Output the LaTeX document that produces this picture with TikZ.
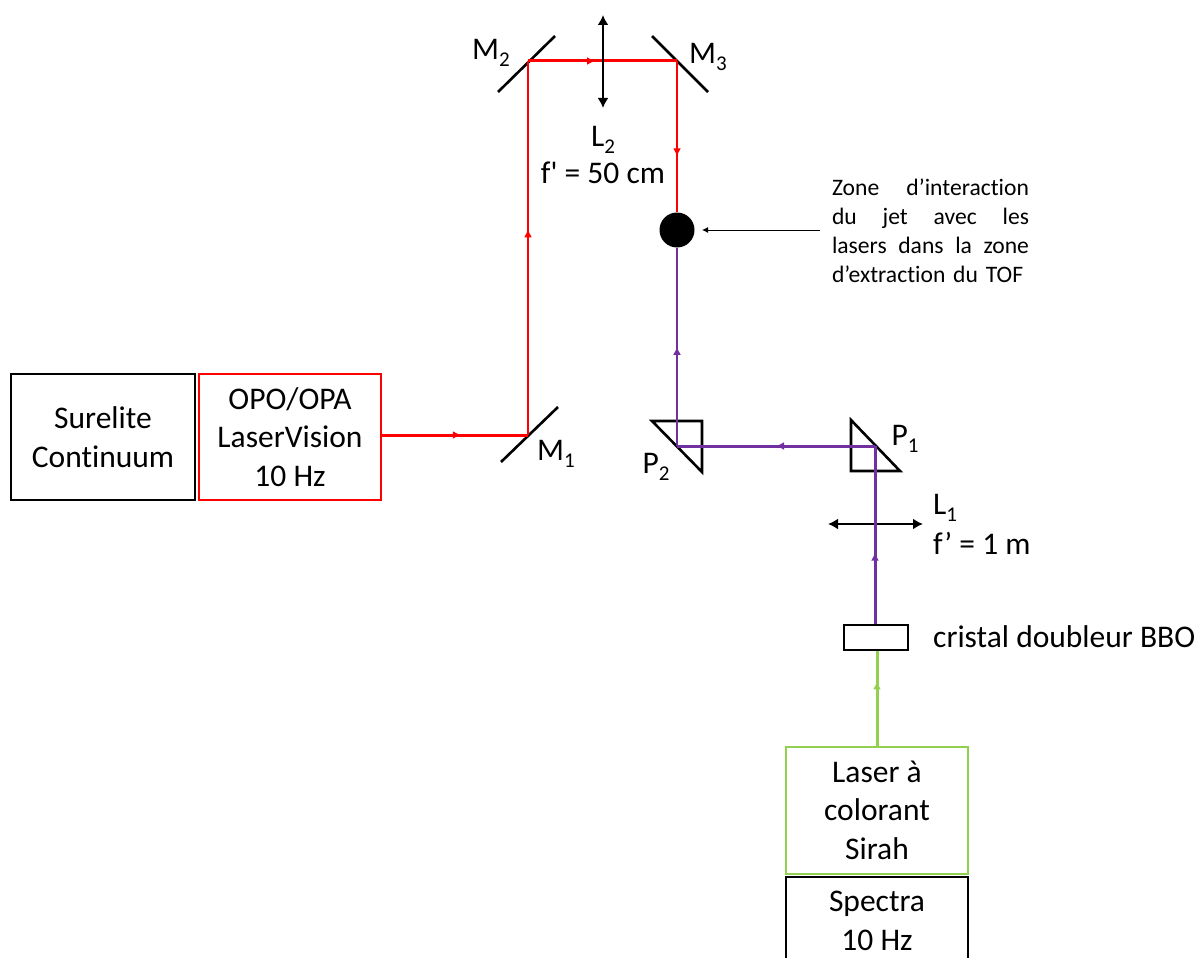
\documentclass[tikz,border=0pt]{standalone}
\usepackage{fontspec}
\setmainfont[Ligatures={TeX,NoCommon}]{Carlito}
\newfontfamily\plainfont{Carlito}
\usetikzlibrary{decorations.markings,arrows.meta}
\definecolor{beamred}{RGB}{255,0,0}
\definecolor{beampurple}{RGB}{112,48,160}
\definecolor{beamgreen}{RGB}{146,208,80}
\newcommand{\idx}[1]{\raisebox{-6.5pt}{\fontsize{21}{21}\selectfont #1}}
\newcommand{\fitline}[1]{\leavevmode\hbox to 197pt{#1}}
\tikzset{
  laserbox/.style={
    draw,
    line width=1.8pt,
    align=center,
    inner sep=0pt,
    font=\fontsize{31.5}{38.5}\selectfont
  },
  txt/.style={
    inner sep=0pt,
    align=center,
    font=\fontsize{31.5}{38.5}\selectfont
  },
  optic/.style={
    black,
    line width=2.6pt
  },
  lens/.style={
    black,
    line width=2.4pt,
    {Latex[length=10pt,width=11pt]}-{Latex[length=10pt,width=11pt]}
  },
  beam/.style={
    line width=2.2pt,
    postaction={decorate},
    decoration={markings,mark=at position #1 with {\arrow{Latex[length=8pt,width=8pt]}}}
  }
}
\begin{document}
\begin{tikzpicture}[x=1pt,y=-1pt]
  \useasboundingbox (0,0) rectangle (1203,958);
  \clip (0,0) rectangle (1203,958);
  % sources
  \node[laserbox,minimum width=184pt,minimum height=126pt] (surelite) at (103,437) {Surelite\\Continuum};
  \node[laserbox,beamred,text=black,minimum width=182pt,minimum height=126pt] (opo) at (290,437) {OPO/OPA\\LaserVision\\10 Hz};
  \node[laserbox,beamgreen,line width=2pt,text=black,minimum width=182pt,minimum height=127pt] (sirah) at (877,810) {Laser à\\colorant\\Sirah};
  \node[laserbox,minimum width=182pt,minimum height=88pt] (spectra) at (877,921) {Spectra\\10 Hz};
  % points where the beams turn
  \coordinate (mone) at (528,435);
  \coordinate (mtwo) at (528,61);
  \coordinate (mthree) at (677,61);
  \coordinate (ptwo) at (677,446);
  \coordinate (pone) at (875,446);
  \node[circle,fill=black,inner sep=0pt,minimum size=35pt] (jet) at (677,230) {};
  \node[draw,line width=2.6pt,inner sep=0pt,minimum width=64pt,minimum height=25pt] (bbo) at (876,637.5) {};
  % mirrors
  \draw[optic] (mone)++(-27,27)--++(57,-55);
  \draw[optic] (mtwo)++(-30,31)--++(57,-56);
  \draw[optic] (mthree)++(-25,-25)--++(56,56);
  % prisms
  \draw[optic] (ptwo)++(-25,-25)--++(50,0)--++(0,51)--cycle;
  \draw[optic] (pone)++(-24,-26)--++(0,51)--++(49,0)--cycle;
  % beams
  \draw[beam=0.54,beamred,line width=3pt] (opo.east|-mone)--(mone);
  \draw[beam=0.55,beamred] (mone)--(mtwo);
  \draw[beam=0.68,beamgreen,line width=3pt] (sirah.north)--(sirah.north|-bbo.south);
  \draw[beam=0.63,beamred] (mthree)--(jet.north);
  \draw[beam=0.40,beampurple,line width=3pt] (bbo.north-|pone)--(pone);
  \draw[beam=0.50,beampurple,line width=3pt] (pone)--(ptwo);
  \draw[beam=0.50,beampurple] (ptwo)--(jet.south);
  \draw[lens] (828,524)--(923,524);
  \draw[beampurple,line width=3pt] (875,515)--(875,533);
  \draw[beam=0.45,beamred,line width=3pt] (mtwo)--(mthree);
  \draw[lens] (603,15)--(603,108);
  % labels
  \node[txt] (lmone) at (556,454) {M\idx{1}};
  \node[txt] (lmtwo) at (491,53) {M\idx{2}};
  \node[txt] (lmthree) at (708,57) {M\idx{3}};
  \node[txt] (lpone) at (905,439) {P\idx{1}};
  \node[txt] (lptwo) at (656,467) {P\idx{2}};
  \node[txt,anchor=west] (llone) at (933,508) {L\idx{1}};
  \node[txt,anchor=west] (fone) at (933,543) {f’ = 1 m};
  \node[txt] (lltwo) at (603,140) {L\idx{2}};
  \node[txt] (ftwo) at (603,173) {\plainfont f' = 50 cm};
  \node[txt,anchor=west] (lbbo) at (933,637) {cristal doubleur BBO};
  % legend of the jet
  \node[inner sep=0pt,text width=197pt,align=left,font=\fontsize{23.6}{29}\selectfont] (zone) at (930.5,231) {\fitline{Zone\hfill d’interaction}\\\fitline{du\hfill jet\hfill avec\hfill les}\\\fitline{lasers\hfill dans\hfill la\hfill zone}\\d’extraction du TOF};
  \coordinate (zonearrow) at (820,230);
  \draw[-{Latex[length=6pt,width=6pt]},line width=1pt] (zonearrow)--(702,230);
\end{tikzpicture}
\end{document}
